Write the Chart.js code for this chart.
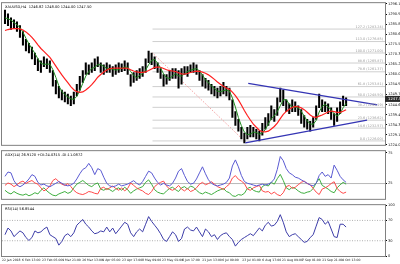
<!DOCTYPE html>
<html>
<head>
<meta charset="utf-8">
<script src="https://cdn.jsdelivr.net/npm/chart.js@4.4.0/dist/chart.umd.min.js"></script>
<style>
html, body { margin: 0; padding: 0; background: #fff; }
#wrap { position: relative; width: 400px; height: 264px; overflow: hidden; }
.pane { position: absolute; left: 0; width: 400px; }
</style>
</head>
<body>
<div id="wrap">
  <div class="pane" style="top:0;height:148px"><canvas id="priceChart"></canvas></div>
  <div class="pane" style="top:148px;height:54px"><canvas id="adxChart"></canvas></div>
  <div class="pane" style="top:202px;height:62px"><canvas id="rsiChart"></canvas></div>
</div>
<script>
// ---- data ----
const symbolTitle = 'XAUUSD,H4  1246.82 1248.00 1244.00 1247.50';
const adxTitle = 'ADX(14) 26.9120 +DI:24.0315 -DI:11.0872';
const rsiTitle = 'RSI(14) 56.8544';
const lastClose = 1247.50;

const xTickPos = [-1, 5.7, 12.4, 19.1, 25.8, 32.5, 39.1, 45.8, 52.5, 59.2, 65.9, 72.6, 79.3, 86, 92.6, 99.3, 106, 112.7];
const xTickLabels = ['22 Jan 2018', '6 Feb 13:00', '23 Feb 05:00', '9 Mar 21:00', '26 Mar 13:00', '9 Apr 05:00',
  '23 Apr 17:00', '8 May 09:00', '23 May 01:00', '6 Jun 17:00', '21 Jun 13:00', '6 Jul 09:00',
  '23 Jul 01:00', '6 Aug 17:00', '21 Aug 09:00', '7 Sep 01:00', '21 Sep 21:00', '4 Oct 13:00'];

const priceTicks = [1224.00, 1229.15, 1234.30, 1239.45, 1244.60, 1249.75, 1254.90, 1260.05,
  1265.20, 1270.35, 1275.50, 1280.65, 1285.80, 1290.95, 1296.10];

const highs = [
  1293, 1291, 1289, 1288, 1287, 1285, 1282, 1278, 1276, 1274,
  1271, 1268, 1267, 1269, 1268, 1267, 1262, 1257, 1254, 1252,
  1251, 1250, 1249, 1251, 1255, 1259, 1262, 1266, 1265, 1266,
  1268, 1269, 1266, 1265, 1266, 1265, 1264, 1265, 1266, 1265.5,
  1267, 1266, 1260, 1261, 1262, 1263, 1264, 1268, 1272, 1271,
  1269, 1266, 1263, 1260, 1260, 1262, 1263, 1263, 1262, 1263,
  1264, 1264, 1265, 1266, 1265, 1262, 1260, 1258, 1257, 1255,
  1254, 1253, 1254, 1256, 1254, 1253, 1247, 1241, 1237, 1233,
  1230, 1233, 1234, 1233, 1232, 1231, 1235, 1238, 1240, 1244,
  1242, 1248, 1253, 1252, 1247, 1245, 1247, 1246, 1244, 1242,
  1239, 1237, 1236, 1238, 1244, 1250, 1247, 1246, 1245, 1243,
  1240, 1243, 1246, 1249, 1248];
const lows = [
  1286, 1285, 1283, 1283.5, 1282, 1279, 1275, 1272, 1271, 1268,
  1265, 1262, 1261, 1264, 1263, 1261, 1254, 1250, 1248, 1247,
  1246, 1245, 1244, 1245, 1249, 1252, 1256, 1260, 1260, 1261,
  1262, 1264, 1261, 1260, 1261, 1261, 1259, 1260, 1261, 1261.5,
  1262, 1260, 1254, 1256, 1257, 1258, 1259, 1261, 1266, 1265,
  1263, 1261, 1258, 1254, 1255, 1257, 1258, 1258, 1253, 1255,
  1260, 1259, 1261, 1261, 1260, 1257, 1254, 1253, 1252, 1250,
  1249, 1248, 1249, 1250, 1249, 1247, 1238, 1234, 1231, 1227,
  1225, 1227, 1228, 1228, 1227, 1226, 1229, 1232, 1234, 1237,
  1236, 1239, 1246, 1244, 1241, 1240, 1241, 1241, 1239, 1235,
  1233, 1232, 1231, 1233, 1237, 1243, 1241, 1241, 1240, 1237,
  1234, 1236, 1240, 1244, 1244];

const maFast = [
  1289, 1288.5, 1287.8, 1286.6, 1285.4, 1284.1, 1281.7, 1278.5, 1275.7, 1273.2,
  1270.8, 1268, 1265.7, 1265.2, 1265.3, 1265.3, 1262.5, 1258.5, 1254.2, 1251.3,
  1249.7, 1248.5, 1247.5, 1247.3, 1248.8, 1251.8, 1255.5, 1259.2, 1261.5, 1263,
  1263.7, 1265, 1265, 1264.2, 1263.2, 1263, 1262.7, 1262.3, 1262.5, 1263.2,
  1263.8, 1263.7, 1261.5, 1259.5, 1258.3, 1259.5, 1260.5, 1262.2, 1265, 1267.2,
  1267.7, 1265.8, 1263.3, 1260.3, 1258.3, 1258, 1259.2, 1260.3, 1259.3, 1259.2,
  1260.3, 1261.5, 1262.2, 1262.7, 1263, 1261.8, 1259.7, 1257.3, 1255.7, 1254.2,
  1252.8, 1251.5, 1251.2, 1251.7, 1252, 1251.5, 1248, 1243.3, 1238, 1233.8,
  1230.5, 1229.2, 1229.5, 1230.5, 1230.3, 1229.5, 1230, 1231.8, 1234.7, 1237.5,
  1238.8, 1241, 1244, 1247, 1247.2, 1244.8, 1243.5, 1243.3, 1243, 1241.2,
  1238.7, 1236.3, 1234.7, 1234.5, 1236.5, 1240.8, 1243.7, 1244.7, 1243.3, 1242,
  1239.8, 1238.8, 1239.8, 1243, 1245.2];
const maSlow = [
  1282.5, 1283, 1283.3, 1283.5, 1283.5, 1283.3, 1282.8, 1281.8, 1280.5, 1279,
  1277.2, 1275.2, 1273.3, 1271.8, 1270.3, 1268.8, 1266.6, 1264.3, 1262, 1259.8,
  1257.8, 1255.8, 1253.8, 1252.2, 1251.2, 1250.9, 1251.1, 1252.1, 1253.3, 1254.8,
  1256.6, 1258.6, 1260, 1261.3, 1262.3, 1263, 1263.2, 1263.3, 1263.3, 1263.2,
  1263.3, 1263.2, 1262.4, 1261.8, 1261.3, 1261.1, 1261.1, 1261.3, 1262, 1262.8,
  1263.6, 1263.8, 1263.7, 1263.1, 1262.4, 1262, 1261.8, 1261.5, 1260.9, 1260.3,
  1260.2, 1260.5, 1261, 1261.4, 1261.7, 1261.6, 1261.2, 1260.6, 1259.8, 1258.7,
  1257.5, 1256.2, 1255, 1254, 1253.1, 1252.4, 1251, 1249.2, 1247, 1244.4,
  1241.6, 1239, 1236.7, 1234.6, 1233, 1231.5, 1230.7, 1230.6, 1231, 1232.1,
  1233.4, 1235.1, 1237.4, 1239.6, 1241.1, 1242.2, 1243.1, 1243.7, 1243.5, 1242.9,
  1242, 1240.7, 1239.3, 1238.3, 1238.1, 1238.7, 1239.3, 1240, 1240.8, 1241.3,
  1241, 1240.6, 1240.6, 1241.2, 1242];

const fibLevels = ['0.0', '14.6', '23.6', '38.2', '50.0', '61.8', '78.6', '88.6', '100.0', '113.0', '127.2'];
const fibPrices = [1226.00, 1232.57, 1236.62, 1243.19, 1248.50, 1253.81, 1261.37, 1265.87, 1271.00, 1276.85, 1283.24];
const fibStartBar = 49.3;
const fibTrend = [[49.3, 1271.0], [80, 1226.0]];
const triangleUpper = [[81.3, 1255.5], [124.4, 1244.5]];
const triangleLower = [[80.3, 1225.0], [121, 1236.6]];

const adx = [
  36.8, 43.9, 42.5, 29.7, 22.6, 19.8, 22.6, 26.9, 32.5, 39.6,
  36.8, 26.9, 22.6, 24.1, 21.2, 19.8, 22.6, 25.5, 28.3, 25.5,
  22.6, 21.2, 22.6, 25.5, 32.5, 41, 48.1, 50.9, 58, 50.9,
  39.6, 49.5, 46.7, 35.4, 25.5, 21.2, 19.8, 21.2, 24.1, 21.2,
  22.6, 24.1, 26.9, 29.7, 25.5, 22.6, 28.3, 36.8, 45.3, 42.5,
  34, 26.9, 22.6, 25.5, 22.6, 21.2, 25.5, 34, 45.3, 49.5,
  38.2, 28.3, 24.1, 25.5, 32.5, 42.5, 52.4, 41, 31.1, 25.5,
  22.6, 21.2, 22.6, 24.1, 26.9, 34, 53.8, 63.7, 52.4, 38.2,
  28.3, 25.5, 24.1, 22.6, 21.2, 22.6, 24.1, 22.6, 24.1, 26.9,
  32.5, 48.1, 69.3, 62.3, 49.5, 42.5, 39.6, 35.4, 34, 31.1,
  28.3, 25.5, 22.6, 21.2, 25.5, 38.2, 43.9, 36.8, 39.6, 34,
  55.2, 46.7, 36.8, 31.1, 26.9];
const plusDi = [
  14, 10, 8, 12, 9, 7, 6, 8, 5, 7,
  10, 8, 14, 18, 13, 9, 6, 5, 8, 10,
  12, 9, 11, 18, 24, 27, 30, 26, 22, 20,
  24, 26, 16, 14, 17, 15, 12, 16, 18, 14,
  19, 15, 9, 13, 16, 18, 20, 27, 31, 24,
  15, 11, 9, 8, 13, 17, 19, 15, 12, 18,
  20, 16, 21, 19, 14, 10, 8, 11, 9, 7,
  10, 13, 15, 17, 12, 10, 5, 4, 7, 6,
  9, 17, 19, 14, 12, 11, 20, 23, 21, 27,
  24, 33, 40, 30, 18, 15, 19, 17, 13, 10,
  9, 11, 12, 17, 26, 33, 22, 19, 16, 12,
  10, 18, 23, 27, 24];
const minusDi = [
  22, 26, 24, 20, 23, 27, 29, 25, 28, 30,
  26, 24, 18, 13, 16, 21, 30, 33, 28, 24,
  22, 25, 20, 14, 10, 8, 7, 9, 12, 11,
  9, 8, 17, 19, 15, 18, 21, 17, 14, 18,
  13, 17, 26, 22, 18, 15, 13, 9, 7, 12,
  20, 24, 27, 29, 21, 16, 14, 17, 22, 16,
  13, 17, 12, 14, 18, 24, 27, 23, 25, 28,
  24, 20, 18, 15, 20, 24, 34, 38, 32, 29,
  25, 16, 14, 18, 20, 22, 13, 11, 12, 8,
  11, 7, 5, 10, 20, 22, 17, 19, 23, 27,
  29, 25, 23, 17, 11, 7, 16, 18, 21, 25,
  28, 17, 12, 9, 11];

const rsi = [
  41.9, 55, 49.3, 38.1, 43.8, 49.3, 45.6, 36.3, 30.6, 36.3,
  49.3, 45.6, 47.5, 53.1, 56.9, 41.9, 38.1, 34.4, 21.3, 28.7,
  40, 43.8, 38.1, 45.6, 60.6, 66.3, 71.8, 62.5, 56.9, 49.3,
  43.8, 45.6, 49.3, 47.5, 56.9, 47.5, 55, 43.8, 51.2, 58.8,
  66.3, 62.5, 45.6, 38.1, 47.5, 53.1, 47.5, 62.5, 77.5, 68.1,
  60.6, 53.1, 43.8, 32.5, 28.7, 38.1, 47.5, 41.9, 28.7, 34.4,
  53.1, 56.9, 51.2, 49.3, 56.9, 47.5, 38.1, 53.1, 47.5, 38.1,
  41.9, 32.5, 40, 43.8, 45.6, 38.1, 32.5, 19.4, 26.8, 32.5,
  36.3, 40, 43.8, 40, 47.5, 55, 49.3, 60.6, 66.3, 58.8,
  60.6, 68.1, 81.3, 66.3, 47.5, 38.1, 41.9, 43.8, 38.1, 32.5,
  26.8, 28.7, 36.3, 41.9, 58.8, 75.6, 71.8, 62.5, 68.1, 53.1,
  38.1, 36.3, 62.5, 62.5, 56.9];

// ---- helpers ----
const FONT = 'DejaVu Sans';
const asPoints = arr => arr.map((v, i) => ({ x: i, y: v }));
const segment = pts => pts.map(p => ({ x: p[0], y: p[1] }));
const flat = (from, to, v) => [{ x: from, y: v }, { x: to, y: v }];

function lineSet(data, color, extra) {
  return Object.assign({
    type: 'line', data: data, borderColor: color, borderWidth: 1,
    pointRadius: 0, tension: 0, fill: false
  }, extra || {});
}

// frame round each pane + pane caption
const paneFrame = {
  id: 'paneFrame',
  afterDraw(chart, args, opts) {
    const a = chart.chartArea, ctx = chart.ctx;
    ctx.save();
    ctx.strokeStyle = '#808080';
    ctx.lineWidth = 1;
    ctx.strokeRect(a.left - 0.5, a.top - 0.5, a.right - a.left + 1, a.bottom - a.top + 1);
    if (opts.caption) {
      ctx.fillStyle = '#000';
      ctx.font = '3.6px "' + FONT + '"';
      ctx.textBaseline = 'top';
      ctx.fillText(opts.caption, a.left + 3, a.top + 2);
    }
    ctx.restore();
  }
};

// fib level captions and the last price box on the price pane
const priceExtras = {
  id: 'priceExtras',
  afterDraw(chart) {
    const ctx = chart.ctx, y = chart.scales.y, a = chart.chartArea;
    ctx.save();
    ctx.font = '3.4px "' + FONT + '"';
    ctx.fillStyle = '#9a9a9a';
    ctx.textAlign = 'right';
    ctx.textBaseline = 'bottom';
    fibPrices.forEach((p, k) => {
      ctx.fillText(fibLevels[k] + ' (' + p.toFixed(2) + ')', a.right - 2, y.getPixelForValue(p) - 0.5);
    });
    const py = y.getPixelForValue(lastClose);
    ctx.fillStyle = '#2b2b2b';
    ctx.fillRect(a.right, py - 3, 15, 6);
    ctx.fillStyle = '#fff';
    ctx.textAlign = 'left';
    ctx.textBaseline = 'middle';
    ctx.font = '3.8px "' + FONT + '"';
    ctx.fillText(lastClose.toFixed(2), a.right + 3, py);
    ctx.restore();
  }
};

const xRange = { min: -1, max: 127 };

function rightAxis(min, max, ticks, fmt) {
  return {
    position: 'right', min: min, max: max,
    afterFit: s => { s.width = 15; },
    afterBuildTicks: s => { s.ticks = ticks.map(v => ({ value: v })); },
    grid: { drawOnChartArea: false, tickLength: 2, color: '#000' },
    border: { display: false },
    ticks: {
      padding: 1, color: '#222', font: { family: FONT, size: 3.6 },
      callback: v => fmt(v)
    }
  };
}

Chart.defaults.animation = false;
Chart.defaults.plugins.legend.display = false;
Chart.defaults.plugins.tooltip.enabled = false;
Chart.defaults.responsive = true;
Chart.defaults.maintainAspectRatio = false;

// ---- price pane ----
const fibSets = fibPrices.map(p => lineSet(flat(fibStartBar, xRange.max, p), '#cfcfcf', { order: 9 }));

new Chart(document.getElementById('priceChart'), {
  type: 'line',
  data: {
    datasets: [
      lineSet(segment(triangleUpper), '#3434b4', { borderWidth: 1.3, order: 0 }),
      lineSet(segment(triangleLower), '#3434b4', { borderWidth: 1.3, order: 0 }),
      lineSet(asPoints(maFast), '#1f8a1f', { order: 2 }),
      lineSet(asPoints(maSlow), '#ff2020', { borderWidth: 1.2, order: 1 }),
      {
        type: 'bar',
        data: highs.map((h, i) => ({ x: i, y: [lows[i], h] })),
        backgroundColor: '#000',
        barThickness: 1.4,
        order: 5
      },
      lineSet(segment(fibTrend), '#f08a8a', { borderDash: [1, 1.5], order: 8 })
    ].concat(fibSets)
  },
  options: {
    layout: { padding: { left: 2, top: 1, bottom: 2, right: 0 } },
    scales: {
      x: Object.assign({ type: 'linear', display: false, offset: false }, xRange),
      y: rightAxis(1224.0, 1296.5, priceTicks, v => v.toFixed(2))
    },
    plugins: { paneFrame: { caption: symbolTitle } }
  },
  plugins: [paneFrame, priceExtras]
});

// ---- ADX pane ----
new Chart(document.getElementById('adxChart'), {
  type: 'line',
  data: {
    datasets: [
      lineSet(asPoints(adx), '#5a5ad2', { order: 1 }),
      lineSet(asPoints(plusDi), '#3fae3f', { order: 3 }),
      lineSet(asPoints(minusDi), '#ff4a4a', { order: 2 }),
      lineSet(flat(xRange.min, xRange.max, 25), '#b8b8b8', { order: 9 })
    ]
  },
  options: {
    layout: { padding: { left: 2, top: 1, bottom: 1, right: 0 } },
    scales: {
      x: Object.assign({ type: 'linear', display: false, offset: false }, xRange),
      y: rightAxis(0, 78, [25, 75], v => String(v))
    },
    plugins: { paneFrame: { caption: adxTitle } }
  },
  plugins: [paneFrame]
});

// ---- RSI pane ----
new Chart(document.getElementById('rsiChart'), {
  type: 'line',
  data: {
    datasets: [
      lineSet(asPoints(rsi), '#3c3ca8', { order: 1 }),
      lineSet(flat(xRange.min, xRange.max, 70), '#b0b0b0', { borderDash: [1, 1.5], order: 9 }),
      lineSet(flat(xRange.min, xRange.max, 30), '#b0b0b0', { borderDash: [1, 1.5], order: 9 })
    ]
  },
  options: {
    layout: { padding: { left: 2, top: 2, bottom: 0, right: 0 } },
    scales: {
      x: Object.assign({
        type: 'linear', offset: false,
        afterFit: s => { s.height = 8; },
        afterBuildTicks: s => { s.ticks = xTickPos.map(v => ({ value: v })); },
        grid: { drawOnChartArea: false, tickLength: 1, color: '#000' },
        border: { display: false },
        ticks: {
          autoSkip: false, maxRotation: 0, align: 'start', padding: 1.5,
          color: '#222', font: { family: FONT, size: 3.1 },
          callback: (v, i) => xTickLabels[i]
        }
      }, xRange),
      y: rightAxis(0, 100, [0, 30, 70, 100], v => String(v))
    },
    plugins: { paneFrame: { caption: rsiTitle } }
  },
  plugins: [paneFrame]
});
</script>
</body>
</html>
